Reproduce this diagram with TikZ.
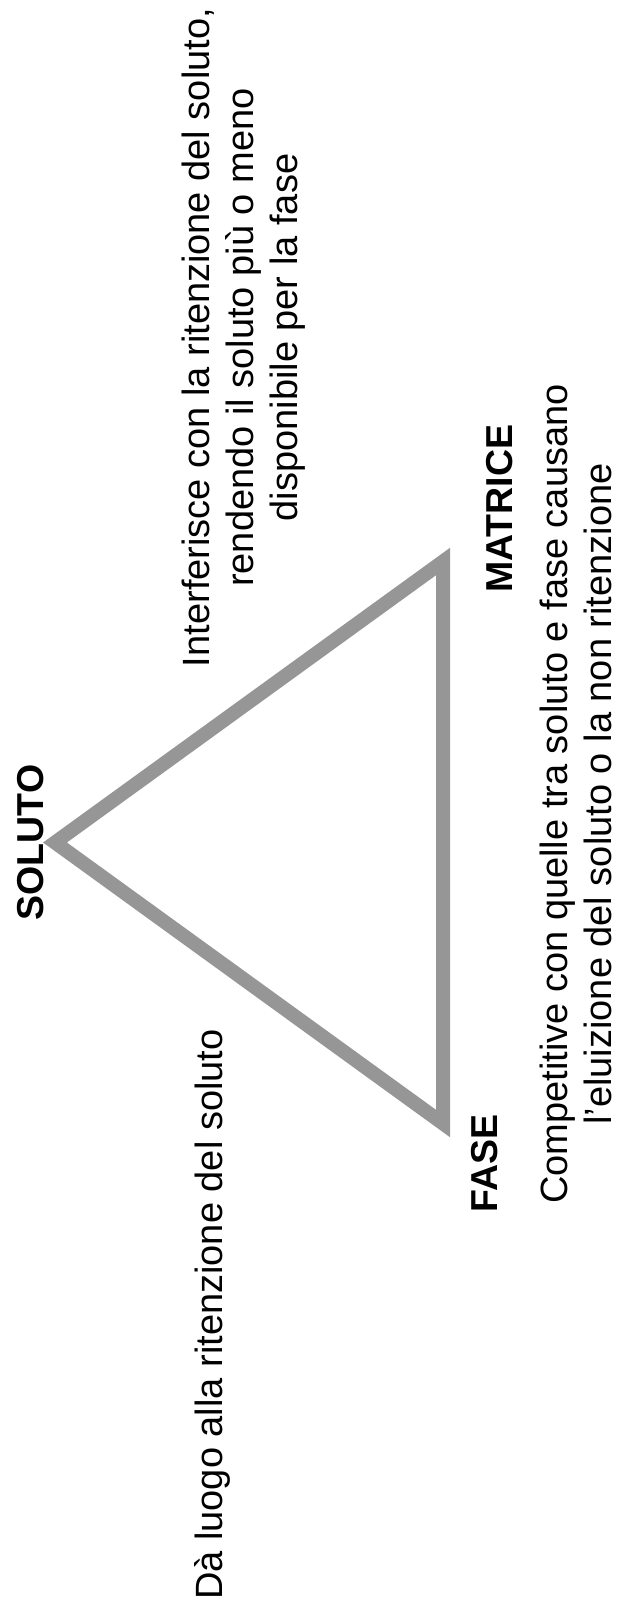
\documentclass[tikz,border=0pt]{standalone}
\usepackage{fontspec}
\setmainfont{Liberation Sans}
\definecolor{tri}{RGB}{150,150,150}
\begin{document}
\begin{tikzpicture}[x=1pt,y=-1pt,
  lbl/.style={font=\fontsize{37.5}{44.5}\selectfont\bfseries, inner sep=0pt, rotate=90},
  txt/.style={font=\fontsize{38}{44}\selectfont, inner sep=0pt, rotate=90, align=center},
  triline/.style={draw=tri, line width=14pt, line join=miter, miter limit=10}]
\useasboundingbox (0,0) rectangle (617,1615);
\coordinate (S) at (55,842.5);
\coordinate (M) at (443,561.5);
\coordinate (F) at (443,1123.5);
\draw[triline] (S) -- (M) -- (F) -- cycle;
\node[lbl, anchor=base] (soluto) at (43,842.5) {SOLUTO};
\node[lbl, anchor=base west] (matrice) at (512,593) {MATRICE};
\node[lbl, anchor=base west] (fase) at (497,1213) {FASE};
\node[txt, anchor=north] (interf) at (182,337.5) {Interferisce con la ritenzione del soluto,\\rendendo il soluto più o meno\\disponibile per la fase};
\node[txt, anchor=north] (compet) at (540,794) {Competitive con quelle tra soluto e fase causano\\l'eluizione del soluto o la non ritenzione};
\node[txt, anchor=base west] (daluogo) at (222,1600) {Dà luogo alla ritenzione del soluto};
\end{tikzpicture}
\end{document}
